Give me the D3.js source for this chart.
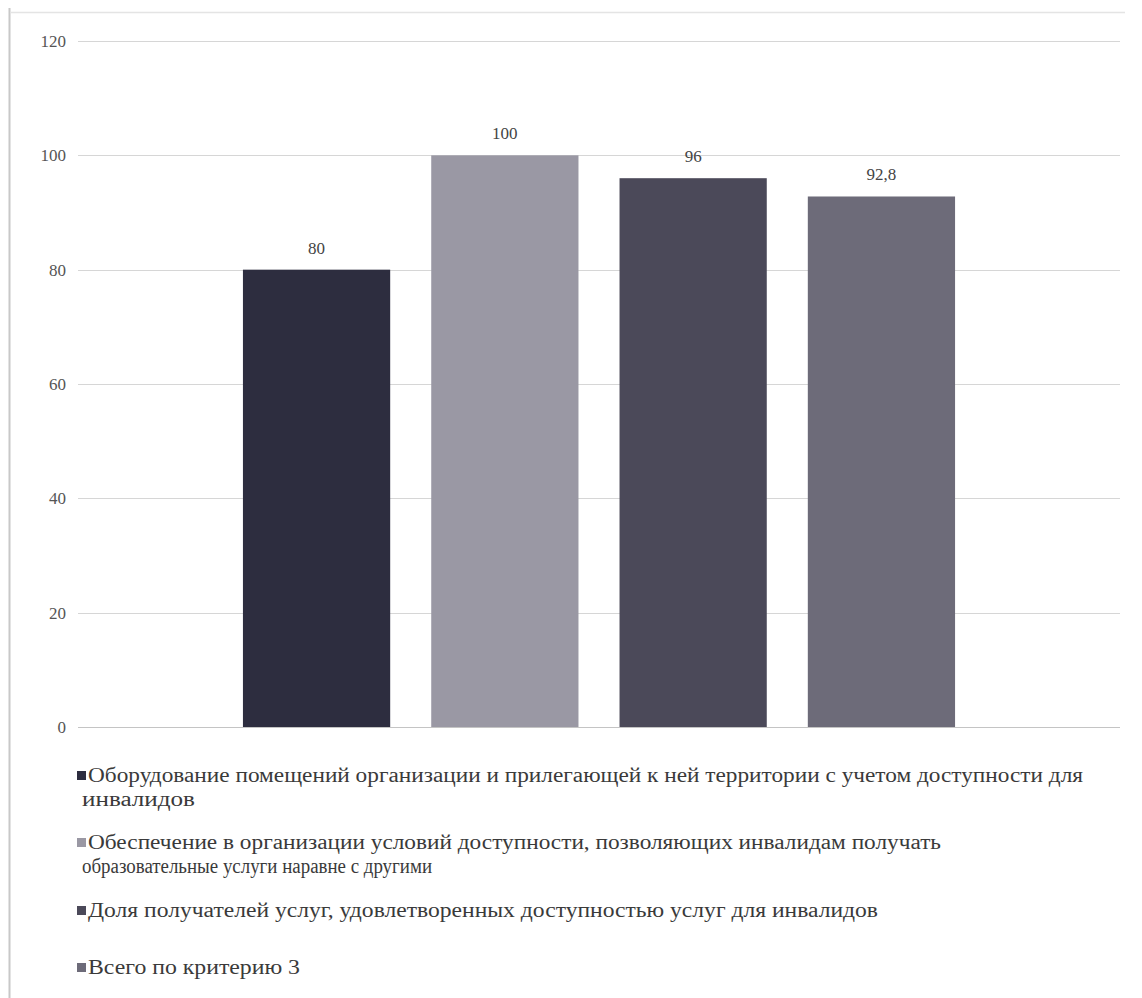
<!DOCTYPE html>
<html><head><meta charset="utf-8">
<script src="https://cdn.jsdelivr.net/npm/d3@7"></script>
</head><body style="margin:0">
<script>
const seriesNames = [
  "Оборудование помещений организации и прилегающей к ней территории с учетом доступности для инвалидов",
  "Обеспечение в организации условий доступности, позволяющих инвалидам получать образовательные услуги наравне с другими",
  "Доля получателей услуг, удовлетворенных доступностью услуг для инвалидов",
  "Всего по критерию 3"
];
const legendLines = [
  ["Оборудование помещений организации и прилегающей к ней территории с учетом доступности для", "инвалидов"],
  ["Обеспечение в организации условий доступности, позволяющих инвалидам получать", "образовательные услуги наравне с другими"],
  ["Доля получателей услуг, удовлетворенных доступностью услуг для инвалидов"],
  ["Всего по критерию 3"]
];
const values = [80, 100, 96, 92.8];
const valueLabels = ["80", "100", "96", "92,8"];
const yTicks = [0, 20, 40, 60, 80, 100, 120];
const colors = ["#2d2d3f", "#9a98a4", "#4b4959", "#6d6b79"];

(function () {
const W = 1142, H = 998;
const FF = '"Liberation Serif", "Times New Roman", serif';
const svg = d3.select("body").append("svg").attr("width", W).attr("height", H)
  .style("display", "block").style("background", "#fff")
  .attr("font-family", "Liberation Serif").style("font-family", FF);

// scan frame lines
svg.append("line").attr("x1", 9.5).attr("x2", 9.5).attr("y1", 8).attr("y2", 998).attr("stroke", "#c8c8c8").attr("stroke-width", 2);
svg.append("line").attr("x1", 10).attr("x2", 1125).attr("y1", 12.5).attr("y2", 12.5).attr("stroke", "#e4e4e4").attr("stroke-width", 1.5);

const pLeft = 78, pRight = 1120, pTop = 41, pBottom = 727;
const y = d3.scaleLinear().domain([0, 120]).range([pBottom, pTop]);
const x = d3.scaleBand().domain(seriesNames).range([pLeft, pRight]).paddingInner(0.218).paddingOuter(0.876);

// gridlines
svg.append("g").selectAll("line").data(yTicks).join("line")
  .attr("x1", pLeft).attr("x2", pRight)
  .attr("y1", d => Math.round(y(d)) + 0.5).attr("y2", d => Math.round(y(d)) + 0.5)
  .attr("stroke", d => d === 0 ? "#c4c4c4" : "#d6d6d6").attr("stroke-width", 1.2);

// y axis labels
const yAxis = d3.axisLeft(y).tickValues(yTicks).tickSize(0).tickPadding(0);
const ga = svg.append("g").attr("transform", `translate(66,0)`).call(yAxis);
ga.select(".domain").remove();
ga.attr("font-family", "Liberation Serif").attr("font-size", 17);
ga.selectAll("text").style("font-family", FF).style("font-size", "17px").attr("fill", "#555");

// bars
svg.append("g").selectAll("rect").data(values).join("rect")
  .attr("x", (d, i) => x(seriesNames[i]))
  .attr("width", x.bandwidth())
  .attr("y", d => y(d))
  .attr("height", d => y(0) - y(d))
  .attr("fill", (d, i) => colors[i]);

// value labels
svg.append("g").selectAll("text").data(values).join("text")
  .attr("x", (d, i) => x(seriesNames[i]) + x.bandwidth() / 2)
  .attr("y", d => y(d) - 16)
  .attr("text-anchor", "middle")
  .style("font-family", FF).style("font-size", "17px").attr("fill", "#444")
  .text((d, i) => valueLabels[i]);

// legend
const legendY = [776, 843, 911, 968];
const lineWidths = [[995, 113], [853, 350], [790], [212]];
const lg = svg.append("g");
legendLines.forEach((lines, i) => {
  lg.append("rect").attr("x", 77).attr("y", legendY[i] - 5).attr("width", 9).attr("height", 9).attr("fill", colors[i]);
  lines.forEach((t, j) => {
    lg.append("text").attr("x", j === 0 ? 88 : 82).attr("y", legendY[i] + 6 + j * 24)
      .attr("textLength", lineWidths[i][j]).attr("lengthAdjust", "spacingAndGlyphs")
      .style("font-family", FF).style("font-size", "20px").attr("fill", "#3a3a3a").text(t);
  });
});
})();
</script>
</body></html>
